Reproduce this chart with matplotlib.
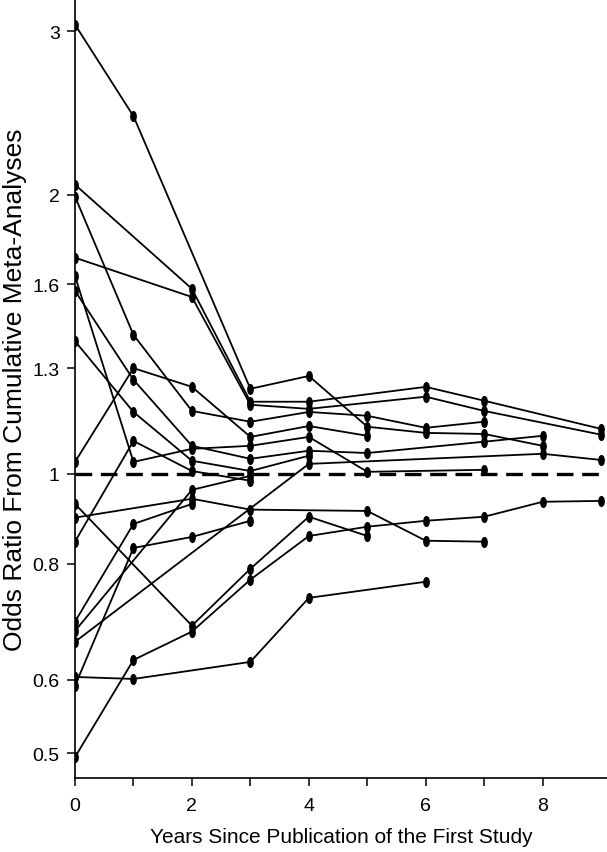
import matplotlib
matplotlib.use("Agg")
import matplotlib.pyplot as plt
from matplotlib.path import Path
from matplotlib.transforms import Affine2D

plt.rcParams['font.family'] = ['Liberation Sans', 'DejaVu Sans']

# cumulative meta-analysis trajectories (year since first study, odds ratio)
years_a = [0, 1, 3, 4, 5, 6, 7, 8]
or_a = [3.05, 2.43, 1.235, 1.275, 1.124, 1.107, 1.104, 1.072]
years_b = [0, 2, 3, 4, 6, 7, 9]
or_b = [2.05, 1.583, 1.196, 1.196, 1.241, 1.199, 1.118]
years_c = [0, 2, 3, 4, 6, 7, 9]
or_c = [1.71, 1.551, 1.187, 1.175, 1.211, 1.169, 1.102]
years_d = [0, 1, 2, 3, 4, 5, 6, 7]
or_d = [1.99, 1.412, 1.169, 1.138, 1.166, 1.155, 1.121, 1.138]
years_e = [0, 1, 2, 3, 4, 5, 7]
or_e = [1.634, 1.030, 1.064, 1.072, 1.096, 1.005, 1.010]
years_f = [0, 1, 2, 3, 4, 5, 7, 8]
or_f = [1.575, 1.263, 1.072, 1.038, 1.059, 1.053, 1.083, 1.099]
years_g = [0, 1, 2, 3, 4]
or_g = [1.39, 1.166, 1.033, 1.007, 1.046]
years_h = [0, 1, 2, 3, 4, 5]
or_h = [1.03, 1.30, 1.241, 1.096, 1.126, 1.099]
years_i = [0, 2, 3, 4, 5]
or_i = [0.928, 0.686, 0.790, 0.899, 0.857]
years_j = [0, 2, 3, 5, 6, 7]
or_j = [0.897, 0.940, 0.915, 0.912, 0.847, 0.845]
years_k = [0, 1, 2, 3]
or_k = [0.845, 1.085, 1.007, 0.983]
years_l = [0, 1, 2]
or_l = [0.693, 0.883, 0.928]
years_m = [0, 2, 3]
or_m = [0.677, 0.961, 0.995]
years_n = [0, 4, 8, 9]
or_n = [0.659, 1.025, 1.051, 1.035]
years_o = [0, 1, 3, 4, 6]
or_o = [0.604, 0.601, 0.627, 0.735, 0.765]
years_p = [0, 1, 2, 3]
or_p = [0.591, 0.832, 0.855, 0.890]
years_q = [0, 1, 2, 3, 4, 5, 6, 7, 8, 9]
or_q = [0.495, 0.630, 0.676, 0.769, 0.857, 0.877, 0.890, 0.899, 0.933, 0.935]

series = [(years_a, or_a), (years_b, or_b), (years_c, or_c), (years_d, or_d),
          (years_e, or_e), (years_f, or_f), (years_g, or_g), (years_h, or_h),
          (years_i, or_i), (years_j, or_j), (years_k, or_k), (years_l, or_l),
          (years_m, or_m), (years_n, or_n), (years_o, or_o), (years_p, or_p),
          (years_q, or_q)]

ref_or = 1.0
y_ticks = [0.5, 0.6, 0.8, 1, 1.3, 1.6, 2, 3]
y_labels = ['0.5', '0.6', '0.8', '1', '1.3', '1.6', '2', '3']
x_ticks = list(range(0, 9))
x_labels = ['0', '', '2', '', '4', '', '6', '', '8']

# tall narrow ellipse used as the point marker
dot = Path.unit_circle().transformed(Affine2D().scale(0.55, 1.0))

fig = plt.figure(figsize=(6.07, 8.53), dpi=100)
ax = fig.add_axes([75 / 607, 74 / 853, 532 / 607, 779 / 853])

ax.plot([0, 9.1], [ref_or, ref_or], color='black', lw=2.4,
        dashes=(5, 2.6), solid_capstyle='butt', zorder=1)

for xs, ys in series:
    ax.plot(xs, ys, color='black', lw=1.3, marker=dot, markersize=7,
            markerfacecolor='black', markeredgecolor='black', zorder=2)

ax.set_yscale('log')
ax.set_ylim(0.47, 3.25)
ax.set_xlim(0, 9.1)
ax.set_yticks(y_ticks)
ax.set_yticklabels(y_labels)
ax.yaxis.set_minor_locator(matplotlib.ticker.NullLocator())
ax.set_xticks(x_ticks)
ax.set_xticklabels(x_labels)

for s in ['top', 'right']:
    ax.spines[s].set_visible(False)
for s in ['left', 'bottom']:
    ax.spines[s].set_linewidth(1.2)

ax.tick_params(axis='both', direction='out', length=6, width=1.1,
               labelsize=14, pad=5)
ax.tick_params(axis='x', pad=8)

ax.set_xlabel('Years Since Publication of the First Study', fontsize=15,
              labelpad=9)
ax.set_ylabel('Odds Ratio From Cumulative Meta-Analyses', fontsize=19,
              labelpad=4)

fig.savefig('out.png', dpi=100)
